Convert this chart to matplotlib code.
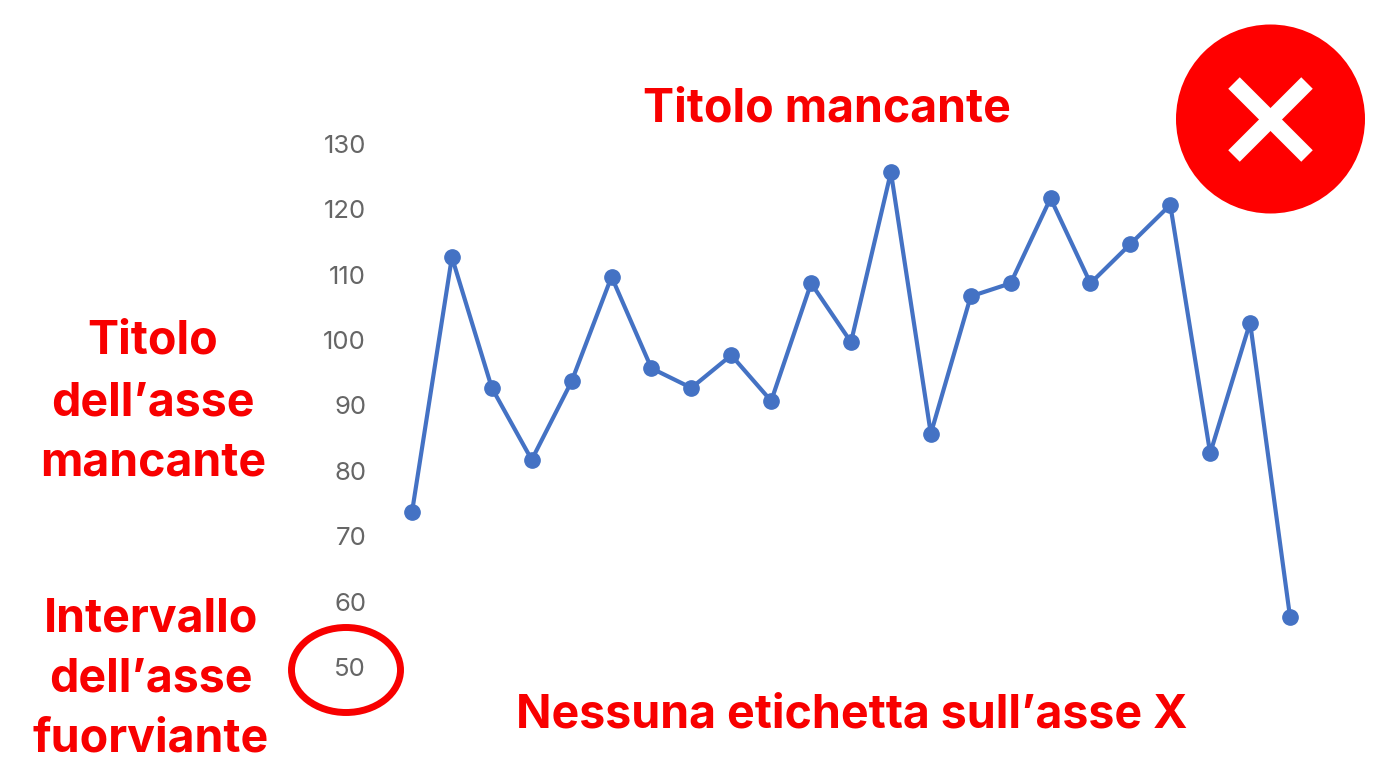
import matplotlib
matplotlib.use('Agg')
import matplotlib.pyplot as plt
from matplotlib.patches import Circle, Ellipse
from matplotlib.transforms import ScaledTranslation

# valori
valori = [74, 113, 93, 82, 94, 110, 96, 93, 98, 91, 109, 100, 126, 86, 107, 109, 122, 109, 115, 121, 83, 103, 58]
tacche = [50, 60, 70, 80, 90, 100, 110, 120, 130]
punti = list(range(len(valori)))

rosso = '#f80000'
blu = '#4472c4'
grigio = '#666666'

W, H = 1390, 768
fig = plt.figure(figsize=(W / 100, H / 100), dpi=100, facecolor='white')

# asse: i punti stanno circa 3 px sotto le etichette
x0, x1 = 412, 1290
y50, y130 = 669, 146
ax = fig.add_axes([x0 / W, 1 - y50 / H, (x1 - x0) / W, (y50 - y130) / H])
ax.set_xlim(0, len(valori) - 1)
ax.set_ylim(50, 130)
ax.plot(punti, valori, color=blu, lw=3, marker='o', ms=11, clip_on=False)
ax.set_yticks(tacche)
ax.set_xticks([])
ax.tick_params(axis='y', length=0, pad=33, labelsize=18.5, labelcolor=grigio)
sposta = ScaledTranslation(0, 2 / 100, fig.dpi_scale_trans)
for lab in ax.get_yticklabels():
    lab.set_family('Inter')
    lab.set_transform(lab.get_transform() + sposta)
for s in ax.spines.values():
    s.set_visible(False)
ax.patch.set_alpha(0)

# livello sovrapposto in pixel per le annotazioni
ov = fig.add_axes([0, 0, 1, 1])
ov.set_xlim(0, W)
ov.set_ylim(H, 0)
ov.axis('off')
ov.patch.set_alpha(0)

def scritta(x, y, testo, size=33.5):
    ov.text(x, y, testo, color=rosso, fontsize=size, fontweight='bold', family='Inter',
            ha='center', va='center')

scritta(827, 110, 'Titolo mancante')
scritta(153, 342, 'Titolo')
scritta(153, 403, 'dell’asse')
scritta(153, 464, 'mancante')
scritta(151, 619, 'Intervallo')
scritta(151, 680, 'dell’asse')
scritta(151, 740, 'fuorviante')
scritta(852, 716, 'Nessuna etichetta sull’asse X')

ov.add_patch(Ellipse((346, 670), 109, 85, fill=False, ec=rosso, lw=5))

# cerchio con la croce
ov.add_patch(Circle((1270.5, 119), 94.5, fc='#ff0000', ec='none'))
ov.plot([1234, 1307], [83, 156], color='white', lw=11.7, solid_capstyle='butt')
ov.plot([1234, 1307], [156, 83], color='white', lw=11.7, solid_capstyle='butt')

fig.savefig('out.png', dpi=100)
